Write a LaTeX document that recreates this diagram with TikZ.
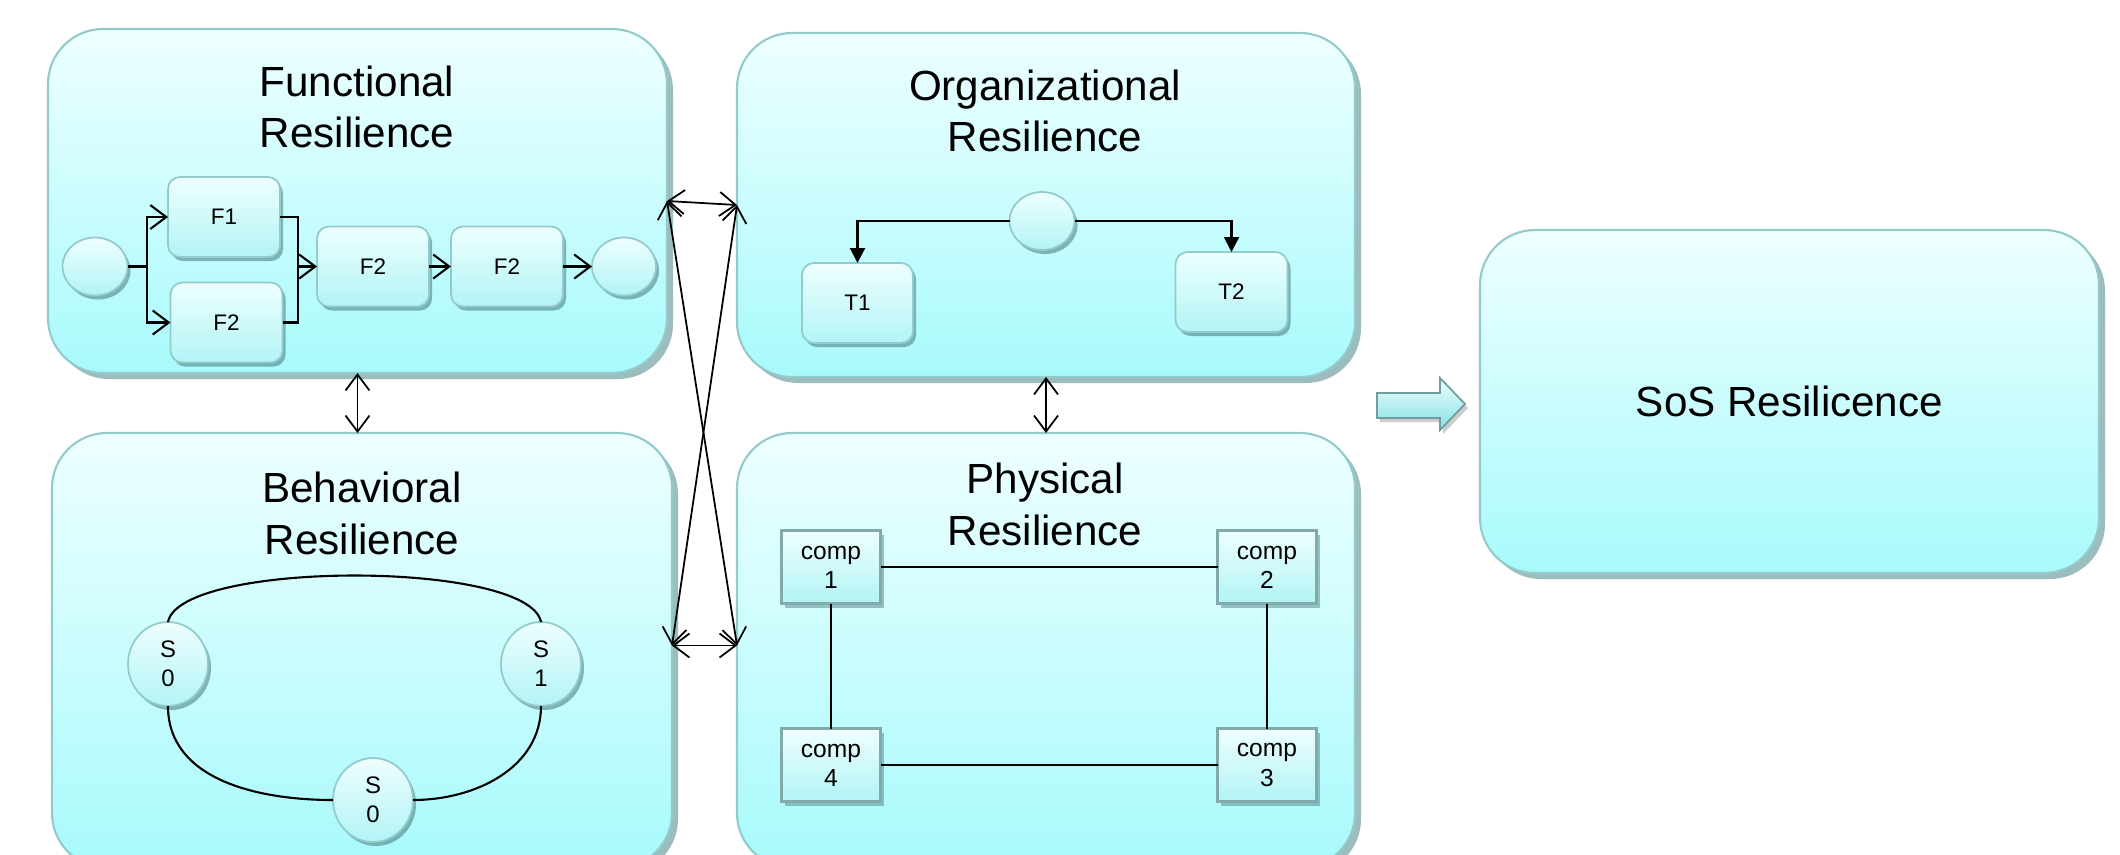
\documentclass[tikz,border=0pt]{standalone}
\usepackage{fontspec}
\setmainfont{Liberation Sans}
\usetikzlibrary{arrows.meta,positioning,shapes.geometric,shadows,calc}

\definecolor{panelTop}{HTML}{EEFFFF}
\definecolor{panelBot}{HTML}{A8FAFC}
\definecolor{panelEdge}{HTML}{93CBCC}
\definecolor{shadeEdge}{HTML}{4E8587}
\definecolor{itemBot}{HTML}{B2F4F5}

\tikzset{
  panel/.style={rectangle, rounded corners=5.5mm, top color=panelTop, bottom color=panelBot,
    draw=panelEdge, line width=0.6pt, outer sep=0pt,
    drop shadow={shadow xshift=0.6mm, shadow yshift=-0.6mm, fill=shadeEdge, opacity=0.55}},
  ptitle/.style={align=center, font=\fontsize{12}{14.6}\selectfont},
  fbox/.style={rectangle, rounded corners=1.2mm, top color=panelTop, bottom color=itemBot,
    draw=panelEdge, line width=0.5pt, outer sep=0pt, minimum width=1.12cm, minimum height=0.8cm,
    font=\fontsize{6.4}{7.5}\selectfont,
    drop shadow={shadow xshift=0.3mm, shadow yshift=-0.4mm, fill=shadeEdge, opacity=0.6}},
  compbox/.style={rectangle, top color=panelTop, bottom color=itemBot, draw=shadeEdge!70,
    line width=0.8pt, outer sep=0pt, minimum width=0.99cm, minimum height=0.73cm, align=center,
    font=\fontsize{7}{8.3}\selectfont,
    drop shadow={shadow xshift=0.3mm, shadow yshift=-0.4mm, fill=shadeEdge, opacity=0.5}},
  blob/.style={ellipse, top color=panelTop, bottom color=itemBot, draw=panelEdge, line width=0.5pt,
    outer sep=0pt, inner sep=0pt, align=center, font=\fontsize{6.8}{8.2}\selectfont,
    drop shadow={shadow xshift=0.3mm, shadow yshift=-0.4mm, fill=shadeEdge, opacity=0.6}}
}

\begin{document}
\begin{tikzpicture}[
    >={Straight Barb[length=1.6mm,width=2.4mm]},
    flow/.style={->, line width=0.6pt},
    link/.style={<->, line width=0.5pt},
    tri/.style={-{Triangle[length=1.5mm,width=1.5mm]}, line width=0.6pt},
    plain/.style={line width=0.6pt}]

    \useasboundingbox (0,0) rectangle (21.2,-8.54);
    \fill[white] (0,0) rectangle (21.2,-8.54);

    % the five panels
    \node[panel, minimum width=6.19cm, minimum height=3.44cm] (func) at (3.575,-2.01) {};
    \node[panel, minimum width=6.18cm, minimum height=3.44cm] (org) at (10.46,-2.05) {};
    \node[panel, minimum width=6.20cm, minimum height=4.35cm] (behav) at (3.62,-6.505) {};
    \node[panel, minimum width=6.18cm, minimum height=4.35cm] (phys) at (10.46,-6.505) {};
    \node[panel, minimum width=6.19cm, minimum height=3.43cm] (sos) at (17.895,-4.015) {};

    \node[ptitle] (functitle) at (3.57,-1.07) {Functional\\Resilience};
    \node[ptitle] (orgtitle) at (10.45,-1.11) {Organizational\\Resilience};
    \node[ptitle] (behavtitle) at (3.62,-5.135) {Behavioral\\Resilience};
    \node[ptitle] (phystitle) at (10.45,-5.045) {Physical\\Resilience};
    \node[ptitle] (sostitle) at (sos) {SoS Resilicence};

    % functional
    \node[blob, minimum width=0.65cm, minimum height=0.58cm] (fstart) at (0.95,-2.665) {};
    \node[fbox] (f1) at (2.24,-2.17) {F1};
    \node[fbox] (f2a) at (2.265,-3.225) {F2};
    \node[fbox] (f2b) at (3.73,-2.665) {F2};
    \node[fbox] (f2c) at (5.07,-2.665) {F2};
    \node[blob, minimum width=0.64cm, minimum height=0.58cm] (fend) at (6.24,-2.665) {};
    \coordinate (fsplit) at (1.47,-2.665);
    \coordinate (fjoin) at (2.98,-2.665);

    \draw[plain] (fstart.east) -- (fsplit);
    \draw[flow] (fsplit) |- (f1.west);
    \draw[flow] (fsplit) |- (f2a.west);
    \draw[plain] (f1.east) -| (fjoin);
    \draw[plain] (f2a.east) -| (fjoin);
    \draw[flow] (fjoin) -- (f2b.west);
    \draw[flow] (f2b.east) -- (f2c.west);
    \draw[flow] (f2c.east) -- (fend.west);

    % organizational
    \node[blob, minimum width=0.65cm, minimum height=0.58cm] (ocirc) at (10.42,-2.21) {};
    \node[fbox, minimum width=1.11cm] (t1) at (8.575,-3.03) {T1};
    \node[fbox] (t2) at (12.315,-2.92) {T2};
    \draw[tri] (ocirc.west) -| (t1.north);
    \draw[tri] (ocirc.east) -| (t2.north);

    % behavioral
    \node[blob, minimum width=0.80cm, minimum height=0.84cm] (s0a) at (1.68,-6.64) {S\\0};
    \node[blob, minimum width=0.80cm, minimum height=0.84cm] (s1) at (5.41,-6.64) {S\\1};
    \node[blob, minimum width=0.80cm, minimum height=0.84cm] (s0b) at (3.73,-8.00) {S\\0};
    \draw[plain] (s0a.north) .. controls +(0.12,0.62) and +(-0.12,0.62) .. (s1.north);
    \draw[plain] (s0a.south) to[out=-90,in=180] (s0b.west);
    \draw[plain] (s0b.east) to[out=0,in=-90] (s1.south);

    % physical
    \node[compbox] (comp1) at (8.31,-5.67) {comp\\1};
    \node[compbox] (comp2) at (12.67,-5.67) {comp\\2};
    \node[compbox] (comp4) at (8.31,-7.65) {comp\\4};
    \node[compbox] (comp3) at (12.67,-7.65) {comp\\3};
    \draw[plain] (comp1) -- (comp2);
    \draw[plain] (comp1) -- (comp4);
    \draw[plain] (comp2) -- (comp3);
    \draw[plain] (comp4) -- (comp3);

    % links between the panels
    \coordinate (behavlink) at ([yshift=0.05cm]behav.east);
    \coordinate (physlink) at ([yshift=0.05cm]phys.west);
    \draw[link] (func.south) -- (func.south |- behav.north);
    \draw[link] (org.south) -- (org.south |- phys.north);
    \draw[link] (func.east) -- (org.west);
    \draw[link] (behavlink) -- (physlink);
    \draw[link] (func.east) -- (physlink);
    \draw[link] (org.west) -- (behavlink);

    % block arrow to the result
    \draw[top color=panelTop, bottom color=panelBot!80!teal, draw=shadeEdge!80, line width=0.5pt,
      drop shadow={shadow xshift=0.3mm, shadow yshift=-0.4mm, fill=gray, opacity=0.4}]
      (13.77,-3.93) -- (14.40,-3.93) -- (14.40,-3.78) -- (14.65,-4.04)
      -- (14.40,-4.30) -- (14.40,-4.18) -- (13.77,-4.18) -- cycle;
\end{tikzpicture}
\end{document}
